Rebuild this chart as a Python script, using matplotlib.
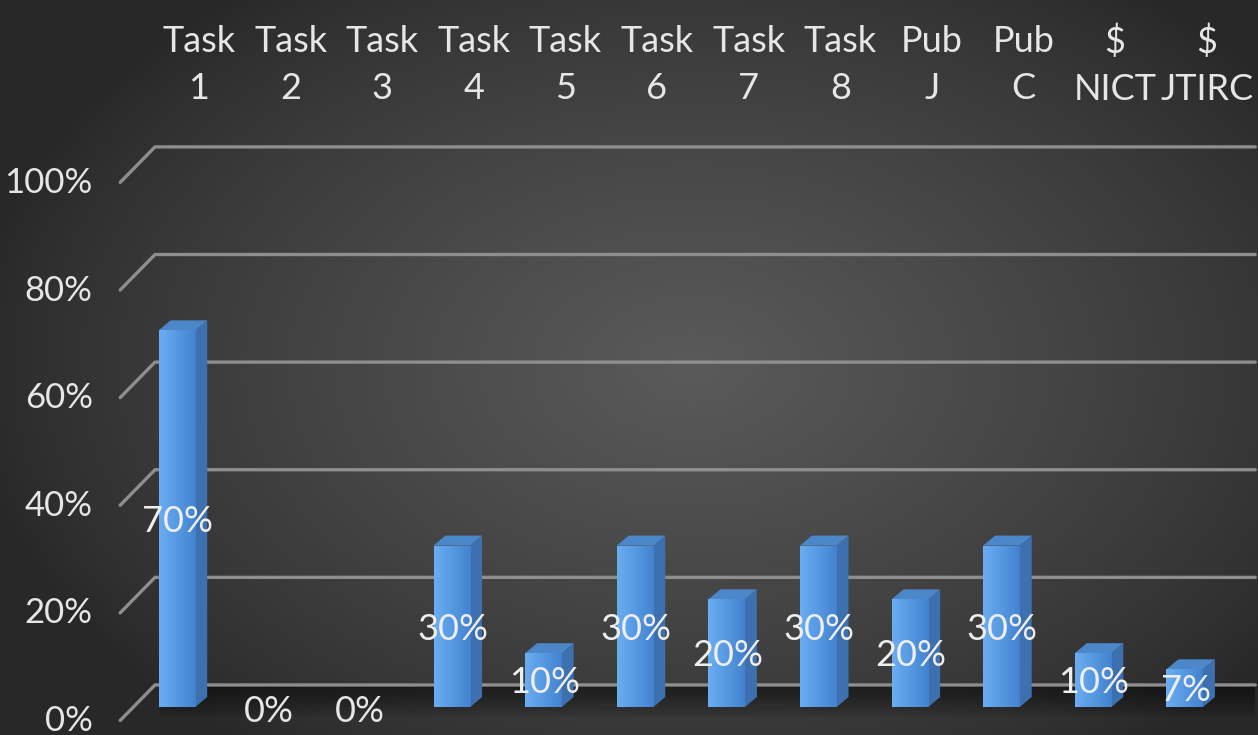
import numpy as np
import matplotlib.pyplot as plt
from matplotlib.patches import Polygon
from matplotlib.colors import LinearSegmentedColormap

# 数据
categories = ['Task\n1', 'Task\n2', 'Task\n3', 'Task\n4', 'Task\n5', 'Task\n6',
              'Task\n7', 'Task\n8', 'Pub\nJ', 'Pub\nC', '$\nNICT', '$\nJTIRC']
values = [70, 0, 0, 30, 10, 30, 20, 30, 20, 30, 10, 7]
yticks = [0, 20, 40, 60, 80, 100]

plt.rcParams['font.family'] = ['Lato', 'DejaVu Sans']
fs = 26

fig = plt.figure(figsize=(12.58, 7.35), dpi=100)
ax = fig.add_axes([0, 0, 1, 1])
ax.set_xlim(-1.932, 11.80)
ax.set_ylim(-5.2, 131.4)
ax.axis('off')

# 背景渐变
gx, gy = np.meshgrid(np.linspace(-1, 1, 400), np.linspace(-1, 1, 240))
r = np.sqrt(((gx - 0.1) / 1.15) ** 2 + ((gy + 0.0) / 1.3) ** 2)
bg = np.clip(1 - r, 0, 1) ** 0.8
bg_cmap = LinearSegmentedColormap.from_list('bg', ['#282828', '#5a5a5a'])
ax.imshow(bg, cmap=bg_cmap, extent=[-1.932, 11.80, -5.2, 131.4],
          aspect='auto', zorder=0, origin='lower')

# 三维偏移
wall_dy = 4.1
front_dy = -2.5
x_front, x_back, x_right = -0.62, -0.24, 11.77

# 地面阴影
for k in range(10):
    ax.fill([x_back + 0.05, x_right, x_right, x_back + 0.05],
            [wall_dy, wall_dy, wall_dy - 0.6 * (k + 1), wall_dy - 0.6 * (k + 1)],
            color='black', alpha=0.06, zorder=1, lw=0)

# 网格线
for v in yticks:
    ax.plot([x_front, x_back, x_right], [v + front_dy, v + wall_dy, v + wall_dy],
            color='#8e8e8e', lw=2.4, zorder=2, solid_capstyle='round')
    ax.text(-0.92, v - 2.6, f'{v}%', ha='right', va='center',
            fontsize=25, color='#e6e6e6', zorder=6)

# 柱子
w = 0.40
dx, dy = 0.13, 1.86
bar_cmap = LinearSegmentedColormap.from_list('bar', ['#6badf2', '#5599e2', '#4482cf'])
grad = np.linspace(0, 1, 100).reshape(1, -1)
for i, v in enumerate(values):
    if v > 0:
        side = Polygon([(i + w / 2, 0), (i + w / 2 + dx, dy),
                        (i + w / 2 + dx, v + dy), (i + w / 2, v)],
                       closed=True, fc='#3c70ae', ec='none', zorder=3)
        top = Polygon([(i - w / 2, v), (i + w / 2, v),
                       (i + w / 2 + dx, v + dy), (i - w / 2 + dx, v + dy)],
                      closed=True, fc='#4c88c9', ec='none', zorder=3)
        ax.add_patch(side)
        ax.add_patch(top)
        bar = ax.bar(i, v, width=w, color='#5a9de4', zorder=4)[0]
        im = ax.imshow(grad, cmap=bar_cmap, extent=[i - w / 2, i + w / 2, 0, v],
                       aspect='auto', zorder=4)
        im.set_clip_path(bar)
        ax.text(i + 0.01, v / 2 - 0.5, f'{v}%', ha='center', va='center',
                fontsize=fs, color='#eeeeee', zorder=7)
    else:
        ax.text(i, -0.9, f'{v}%', ha='center', va='center',
                fontsize=fs, color='#e6e6e6', zorder=7)

# 顶部类别标签
for i, c in enumerate(categories):
    ax.text(i + 0.24, 119.3, c, ha='center', va='center', fontsize=fs,
            color='#e6e6e6', linespacing=1.5, zorder=6)

ax.set_xlim(-1.932, 11.80)
ax.set_ylim(-5.2, 131.4)
fig.savefig('out.png', dpi=100)
